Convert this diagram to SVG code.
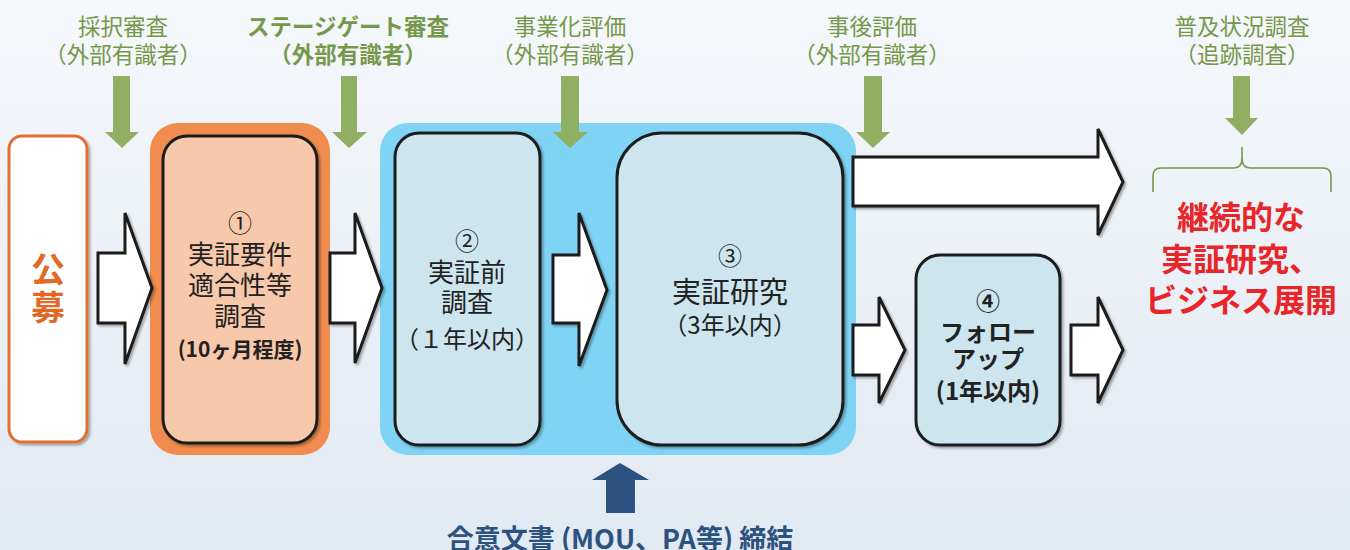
<svg xmlns="http://www.w3.org/2000/svg" width="1350" height="550" viewBox="0 0 1350 550">
<defs>
<linearGradient id="bg" x1="0" y1="0" x2="0" y2="1">
<stop offset="0" stop-color="#f5f8fb"/>
<stop offset="1" stop-color="#e1e9f2"/>
</linearGradient>
<filter id="sh" x="-10%" y="-10%" width="130%" height="130%">
<feDropShadow dx="2" dy="2" stdDeviation="1.2" flood-color="#000" flood-opacity="0.3"/>
</filter>
</defs>
<style>
.lbl{font-family:"Noto Sans CJK JP","Noto Sans",sans-serif;font-size:22.5px;fill:#76984a;text-anchor:middle}
.lblb{font-weight:bold}
.garrow{fill:#8fb062}
.harrow{fill:#ffffff;stroke:#1a1a1a;stroke-width:3;stroke-linejoin:miter;filter:url(#sh)}
.box{stroke:#1e1e1e;stroke-width:3;filter:url(#sh)}
.t{font-family:"Noto Sans CJK JP","Noto Sans",sans-serif;fill:#222;text-anchor:middle}
.red{font-family:"Noto Sans CJK JP","Noto Sans",sans-serif;fill:#e8262a;font-weight:bold;font-size:32px;text-anchor:middle}
</style>
<rect x="0" y="0" width="1350" height="550" fill="url(#bg)"/>

<g id="labels">
<text class="lbl" x="123" y="35">採択審査</text>
<text class="lbl" x="123" y="63">（外部有識者）</text>
<text class="lbl lblb" x="348" y="35">ステージゲート審査</text>
<text class="lbl lblb" x="348" y="63">（外部有識者）</text>
<text class="lbl" x="570" y="35">事業化評価</text>
<text class="lbl" x="570" y="63">（外部有識者）</text>
<text class="lbl" x="872" y="35">事後評価</text>
<text class="lbl" x="872" y="63">（外部有識者）</text>
<text class="lbl" x="1242" y="35">普及状況調査</text>
<text class="lbl" x="1242" y="63">（追跡調査）</text>
</g>

<g id="node-koubo">
<rect x="9" y="136" width="78" height="306" rx="13" fill="#ffffff" stroke="#e07030" stroke-width="3" filter="url(#sh)"/>
<text x="48" y="282" font-family="'Noto Sans CJK JP',sans-serif" font-weight="bold" font-size="34" fill="#e06a25" text-anchor="middle">公</text>
<text x="48" y="320" font-family="'Noto Sans CJK JP',sans-serif" font-weight="bold" font-size="34" fill="#e06a25" text-anchor="middle">募</text>
</g>

<g id="group-stage1">
<rect x="150" y="123" width="180" height="332" rx="28" fill="#ef8c4e"/>
</g>
<g id="node-1">
<rect class="box" x="163" y="136" width="154" height="307" rx="24" fill="#f7c9aa"/>
<text class="t" x="240" y="232" font-size="24">①</text>
<text class="t" x="240" y="264" font-size="26">実証要件</text>
<text class="t" x="240" y="295" font-size="26">適合性等</text>
<text class="t" x="240" y="326" font-size="26">調査</text>
<text class="t" x="240" y="357" font-size="21" font-weight="bold">(10ヶ月程度)</text>
</g>

<g id="group-stage23">
<rect x="380" y="123" width="476" height="332" rx="28" fill="#7fd3f4"/>
</g>
<g id="node-2">
<rect class="box" x="395" y="133" width="145" height="312" rx="24" fill="#cde5ee"/>
<text class="t" x="467" y="250" font-size="24">②</text>
<text class="t" x="467" y="282" font-size="26">実証前</text>
<text class="t" x="467" y="312" font-size="26">調査</text>
<text class="t" x="467" y="348" font-size="24">（１年以内）</text>
</g>
<g id="node-3">
<rect class="box" x="617" y="133" width="226" height="312" rx="45" fill="#cde5ee"/>
<text class="t" x="730" y="265" font-size="24">③</text>
<text class="t" x="730" y="303" font-size="29">実証研究</text>
<text class="t" x="730" y="334" font-size="24">（3年以内）</text>
</g>
<g id="node-4">
<rect class="box" x="916" y="255" width="144" height="190" rx="24" fill="#cde5ee"/>
<text class="t" x="988" y="310" font-size="24" font-weight="bold">④</text>
<text class="t" x="988" y="341" font-size="24" font-weight="bold">フォロー</text>
<text class="t" x="988" y="368" font-size="24" font-weight="bold">アップ</text>
<text class="t" x="988" y="400" font-size="24" font-weight="bold">(1年以内)</text>
</g>

<g id="node-result">
<path d="M1153 192 V176 Q1153 168 1161 168 H1234 Q1242 168 1242 158 V147 M1242 158 Q1242 168 1250 168 H1323 Q1331 168 1331 176 V192" fill="none" stroke="#76984a" stroke-width="1.6"/>
<text class="red" x="1241" y="229">継続的な</text>
<text class="red" x="1241" y="271">実証研究、</text>
<text class="red" x="1241" y="312">ビジネス展開</text>
</g>

<g id="connectors">
<polygon class="garrow" points="113,76 130,76 130,132 139,132 122,148 105,132 113,132"/>
<polygon class="garrow" points="341,76 357,76 357,132 367,132 349,148 332,132 341,132"/>
<polygon class="garrow" points="561,76 579,76 579,132 588,132 570,148 553,132 561,132"/>
<polygon class="garrow" points="864,76 882,76 882,132 890,132 873,148 856,132 864,132"/>
<polygon class="garrow" points="1233,76 1250,76 1250,118 1258,118 1242,135 1225,118 1233,118"/>
<polygon class="harrow" points="98,253 125,253 125,213 152,288 125,364 125,323 98,323"/>
<polygon class="harrow" points="330,253 355,253 355,213 382,288 355,363 355,323 330,323"/>
<polygon class="harrow" points="553,255 579,255 579,213 607,290 579,366 579,323 553,323"/>
<polygon class="harrow" points="853,157 1098,157 1098,129 1123,182 1098,235 1098,206 853,206"/>
<polygon class="harrow" points="853,325 879,325 879,297 905,350 879,403 879,375 853,375"/>
<polygon class="harrow" points="1071,325 1098,325 1098,297 1123,350 1098,403 1098,375 1071,375"/>
<polygon fill="#2c527f" points="606,513 635,513 635,480 649,480 620,463 592,480 606,480"/>
</g>

<g id="label-mou">
<text x="620" y="549" font-family="'Noto Sans CJK JP',sans-serif" font-weight="bold" font-size="27" fill="#2c527f" text-anchor="middle">合意文書 (MOU、PA等) 締結</text>
</g>
</svg>
